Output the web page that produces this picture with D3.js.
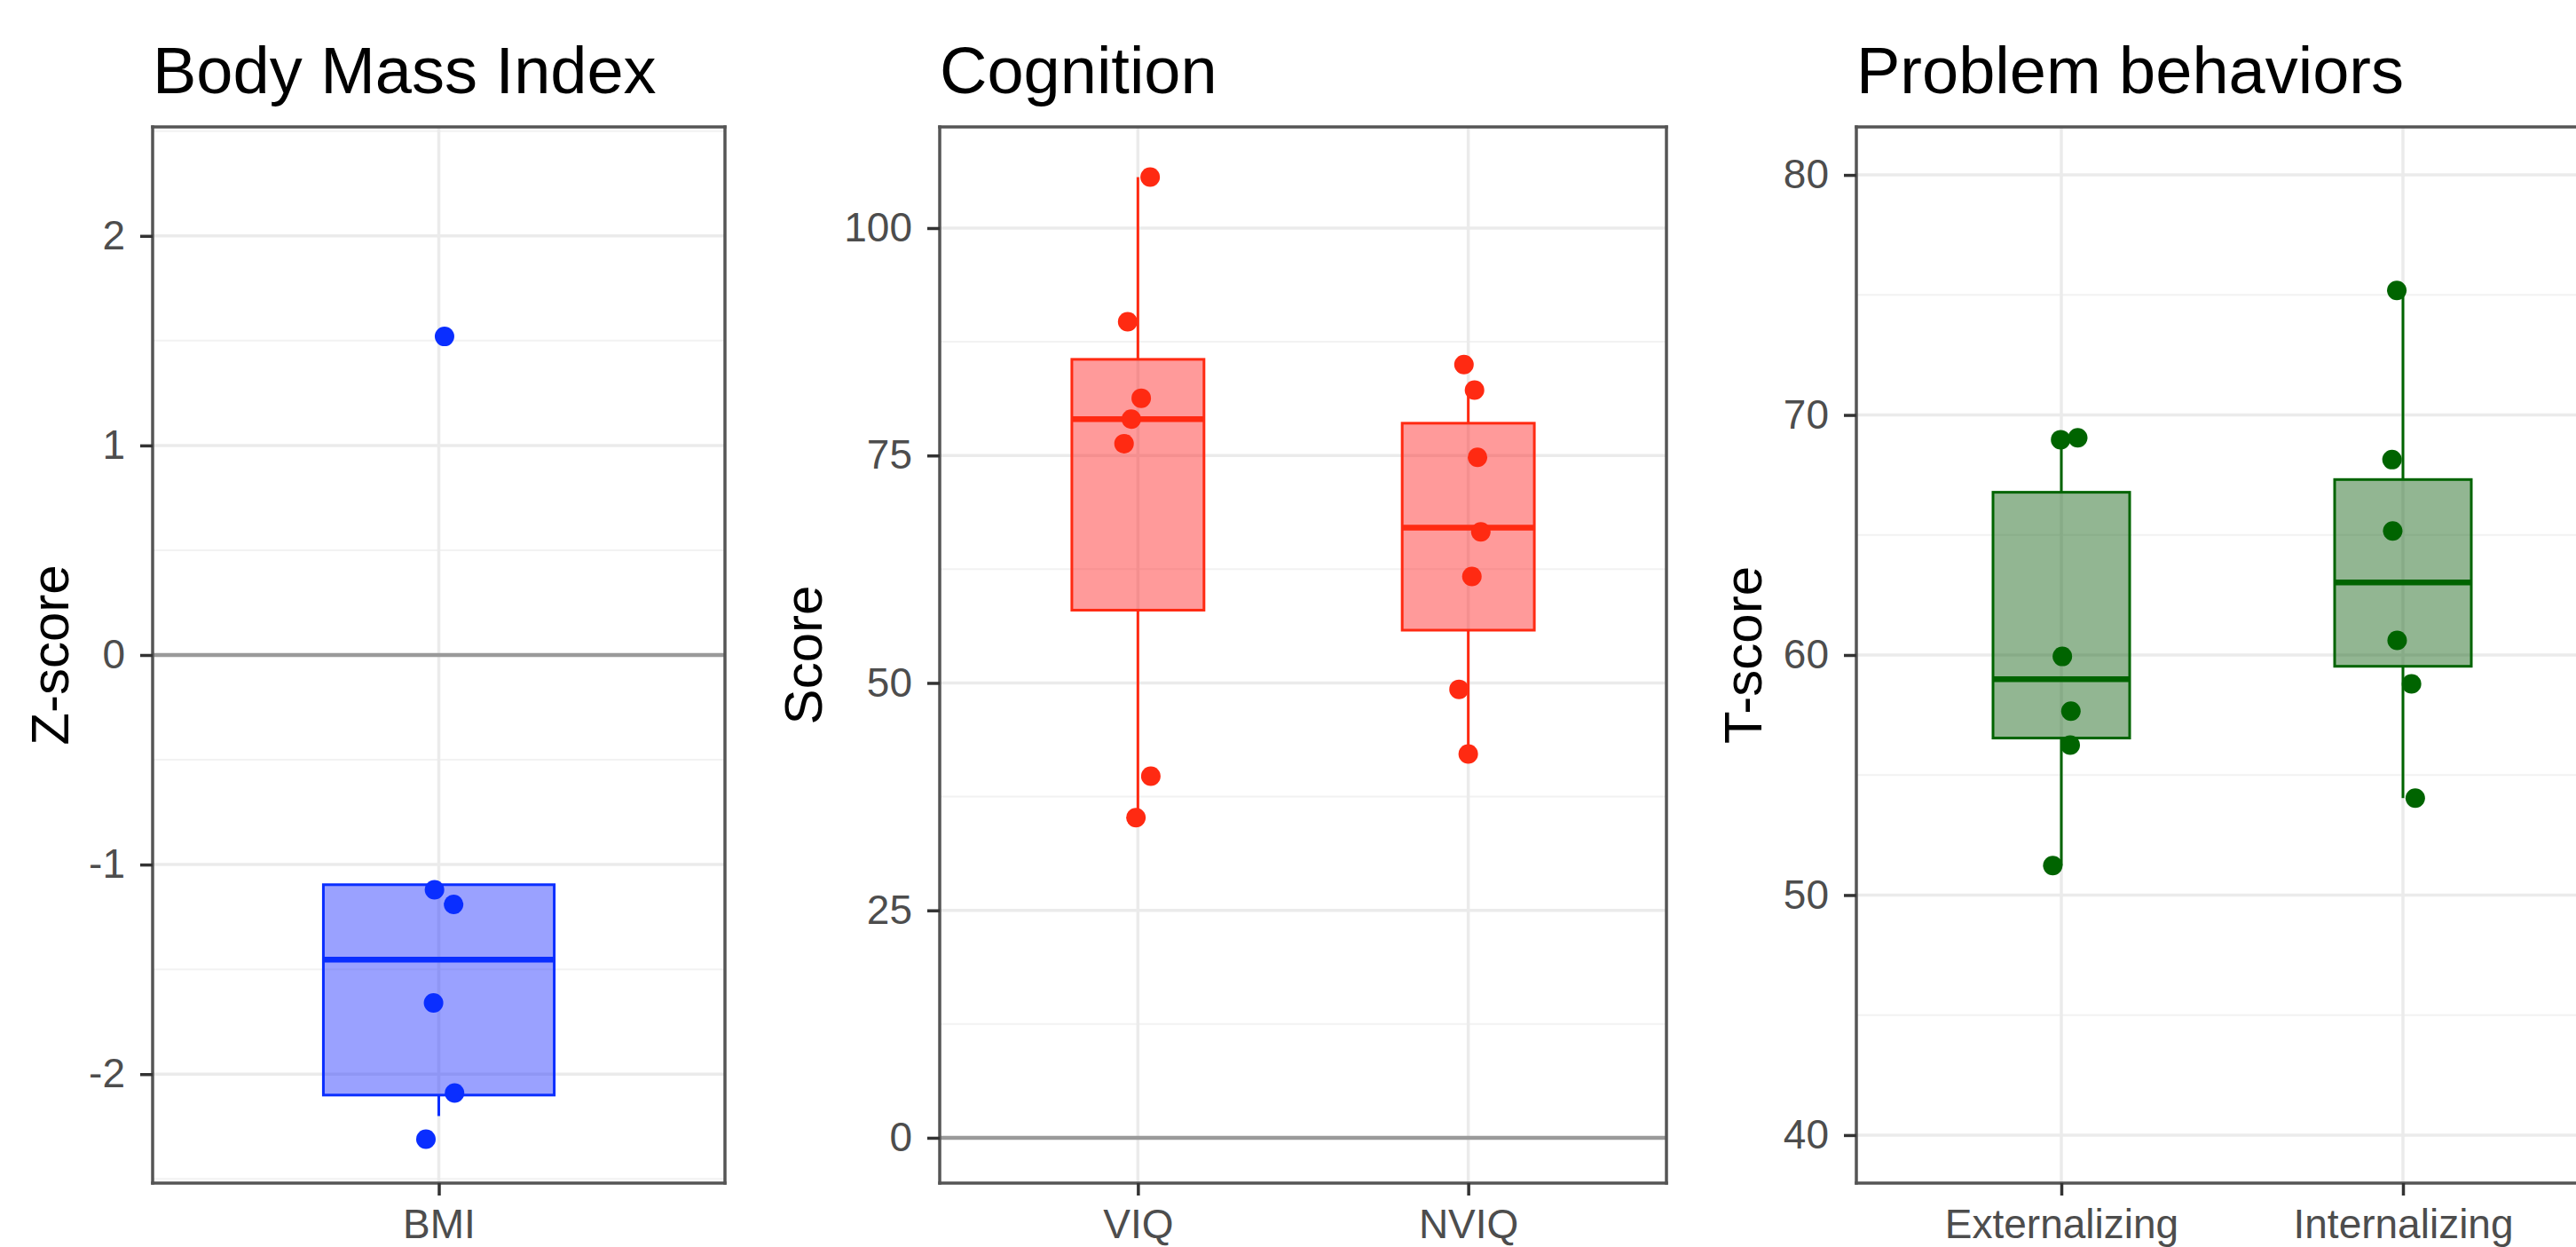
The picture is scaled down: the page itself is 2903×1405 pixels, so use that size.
<!DOCTYPE html>
<html><head><meta charset="utf-8">
<script src="https://cdn.jsdelivr.net/npm/d3@7"></script>
<style>html,body{margin:0;padding:0;background:#fff;overflow:hidden;width:2903px;height:1405px}svg{display:block;overflow:hidden}</style>
</head><body>
<svg id="chart" width="2903" height="1405"></svg>
<script>
// ---------------- DATA ----------------
const panelTitles = ["Body Mass Index", "Cognition", "Problem behaviors"];
const axisTitles = ["Z-score", "Score", "T-score"];

// Panel 1: Body Mass Index
const bmiCategories = ["BMI"];
const bmiTicks = [-2, -1, 0, 1, 2];
const bmiTickLabels = ["-2", "-1", "0", "1", "2"];
const bmiPointGroup = ["BMI", "BMI", "BMI", "BMI", "BMI", "BMI"];
const bmiPointValue = [1.52, -1.12, -1.19, -1.66, -2.09, -2.31];
const bmiPointJitter = [0.012, -0.009, 0.031, -0.011, 0.033, -0.027];
const bmiQ1 = [-2.10];
const bmiMedian = [-1.454];
const bmiQ3 = [-1.096];
const bmiWhiskerLow = [-2.20];
const bmiWhiskerHigh = [-1.096];

// Panel 2: Cognition
const cogCategories = ["VIQ", "NVIQ"];
const cogTicks = [0, 25, 50, 75, 100];
const cogTickLabels = ["0", "25", "50", "75", "100"];
const cogPointGroup = ["VIQ", "VIQ", "VIQ", "VIQ", "VIQ", "VIQ", "VIQ",
                       "NVIQ", "NVIQ", "NVIQ", "NVIQ", "NVIQ", "NVIQ", "NVIQ"];
const cogPointValue = [105.6, 89.7, 81.3, 79.0, 76.3, 39.75, 35.2,
                       85.0, 82.2, 74.8, 66.6, 61.7, 49.3, 42.2];
const cogPointJitter = [0.037, -0.031, 0.010, -0.020, -0.042, 0.039, -0.006,
                        -0.013, 0.019, 0.028, 0.038, 0.011, -0.028, 0.000];
const cogQ1 = [58.0, 55.8];
const cogMedian = [79.0, 67.06];
const cogQ3 = [85.57, 78.55];
const cogWhiskerLow = [35.2, 42.2];
const cogWhiskerHigh = [105.6, 82.2];

// Panel 3: Problem behaviors
const probCategories = ["Externalizing", "Internalizing"];
const probTicks = [40, 50, 60, 70, 80];
const probTickLabels = ["40", "50", "60", "70", "80"];
const probPointGroup = ["Externalizing", "Externalizing", "Externalizing", "Externalizing", "Externalizing", "Externalizing",
                        "Internalizing", "Internalizing", "Internalizing", "Internalizing", "Internalizing", "Internalizing"];
const probPointValue = [68.97, 69.05, 59.94, 57.66, 56.25, 51.23,
                        75.19, 68.14, 65.17, 60.61, 58.8, 54.04];
const probPointJitter = [-0.002, 0.048, 0.003, 0.028, 0.026, -0.025,
                         -0.018, -0.032, -0.030, -0.017, 0.025, 0.036];
const probQ1 = [56.54, 59.53];
const probMedian = [58.99, 63.02];
const probQ3 = [66.78, 67.31];
const probWhiskerLow = [51.23, 54.04];
const probWhiskerHigh = [68.97, 75.19];

// ---------------- LAYOUT / STYLE ----------------
const W = 2903, H = 1405;
const plotTop = 143, plotBottom = 1333;
const panels = [
  {title: panelTitles[0], ytitle: axisTitles[0], left: 172, right: 817, ytitleX: 77,
   domain: [-2.52, 2.52], minor: [-2.5, -1.5, -0.5, 0.5, 1.5, 2.5], zero: true,
   cats: bmiCategories, ticks: bmiTicks, tickLabels: bmiTickLabels,
   pg: bmiPointGroup, pv: bmiPointValue, pj: bmiPointJitter,
   q1: bmiQ1, med: bmiMedian, q3: bmiQ3, wl: bmiWhiskerLow, wh: bmiWhiskerHigh,
   boxW: 0.484, color: "#0a2eff", fill: "#1f2eff"},
  {title: panelTitles[1], ytitle: axisTitles[1], left: 1059, right: 1878, ytitleX: 926,
   domain: [-4.98, 111.12], minor: [12.5, 37.5, 62.5, 87.5], zero: true,
   cats: cogCategories, ticks: cogTicks, tickLabels: cogTickLabels,
   pg: cogPointGroup, pv: cogPointValue, pj: cogPointJitter,
   q1: cogQ1, med: cogMedian, q3: cogQ3, wl: cogWhiskerLow, wh: cogWhiskerHigh,
   boxW: 0.4, color: "#ff2a12", fill: "#ff1f1f"},
  {title: panelTitles[2], ytitle: axisTitles[2], left: 2092, right: 2939, ytitleX: 1985,
   domain: [38, 82], minor: [45, 55, 65, 75], zero: false,
   cats: probCategories, ticks: probTicks, tickLabels: probTickLabels,
   pg: probPointGroup, pv: probPointValue, pj: probPointJitter,
   q1: probQ1, med: probMedian, q3: probQ3, wl: probWhiskerLow, wh: probWhiskerHigh,
   boxW: 0.4, color: "#006400", fill: "#0d5e0d"}
];

const FONT = "'Liberation Sans', Arial, Helvetica, sans-serif";
const svg = d3.select("#chart");
svg.append("defs").append("clipPath").attr("id", "pageClip")
  .append("rect").attr("x", 0).attr("y", 0).attr("width", W).attr("height", H);
svg.append("rect").attr("width", W).attr("height", H).attr("fill", "#fff");
const root = svg.append("g").attr("clip-path", "url(#pageClip)");

panels.forEach(p => {
  const g = root.append("g");
  const x = d3.scalePoint().domain(p.cats).range([p.left, p.right]).padding(0.6);
  const y = d3.scaleLinear().domain(p.domain).range([plotBottom, plotTop]);
  const step = x.step();

  g.append("rect").attr("x", p.left).attr("y", plotTop)
    .attr("width", p.right - p.left).attr("height", plotBottom - plotTop).attr("fill", "#fff");

  g.selectAll(".minor").data(p.minor.filter(v => v > p.domain[0] && v < p.domain[1])).join("line")
    .attr("x1", p.left).attr("x2", p.right)
    .attr("y1", d => y(d)).attr("y2", d => y(d))
    .attr("stroke", "#f2f2f2").attr("stroke-width", 2);
  g.selectAll(".major").data(p.ticks).join("line")
    .attr("x1", p.left).attr("x2", p.right)
    .attr("y1", d => y(d)).attr("y2", d => y(d))
    .attr("stroke", "#ebebeb").attr("stroke-width", 3.5);
  g.selectAll(".vmajor").data(p.cats).join("line")
    .attr("x1", d => x(d)).attr("x2", d => x(d))
    .attr("y1", plotTop).attr("y2", plotBottom)
    .attr("stroke", "#ebebeb").attr("stroke-width", 3.5);

  if (p.zero) {
    g.append("line").attr("x1", p.left).attr("x2", p.right)
      .attr("y1", y(0)).attr("y2", y(0))
      .attr("stroke", "#9a9a9a").attr("stroke-width", 4.5);
  }

  p.cats.forEach((c, i) => {
    const cx = x(c);
    const hw = p.boxW * step / 2;
    g.append("line").attr("x1", cx).attr("x2", cx)
      .attr("y1", y(p.q3[i])).attr("y2", y(p.wh[i]))
      .attr("stroke", p.color).attr("stroke-width", 3);
    g.append("line").attr("x1", cx).attr("x2", cx)
      .attr("y1", y(p.q1[i])).attr("y2", y(p.wl[i]))
      .attr("stroke", p.color).attr("stroke-width", 3);
    g.append("rect").attr("x", cx - hw).attr("y", y(p.q3[i]))
      .attr("width", 2 * hw).attr("height", y(p.q1[i]) - y(p.q3[i]))
      .attr("fill", p.fill).attr("fill-opacity", 0.45)
      .attr("stroke", p.color).attr("stroke-width", 3);
    g.append("line").attr("x1", cx - hw).attr("x2", cx + hw)
      .attr("y1", y(p.med[i])).attr("y2", y(p.med[i]))
      .attr("stroke", p.color).attr("stroke-width", 6.5);
  });

  g.selectAll(".pt").data(p.pv).join("circle")
    .attr("cx", (d, i) => x(p.pg[i]) + p.pj[i] * step)
    .attr("cy", d => y(d))
    .attr("r", 11)
    .attr("fill", p.color);

  // panel border (drawn as separate sides so nothing is drawn beyond the page edge)
  const bx2 = Math.min(p.right, W + 10);
  const border = [
    [p.left, plotTop, bx2, plotTop],
    [p.left, plotBottom, bx2, plotBottom],
    [p.left, plotTop, p.left, plotBottom]
  ];
  if (p.right <= W) border.push([p.right, plotTop, p.right, plotBottom]);
  g.selectAll(".border").data(border).join("line")
    .attr("x1", d => d[0]).attr("y1", d => d[1]).attr("x2", d => d[2]).attr("y2", d => d[3])
    .attr("stroke", "#555").attr("stroke-width", 3.5).attr("stroke-linecap", "square");

  const yAxis = d3.axisLeft(y).tickValues(p.ticks)
    .tickFormat((d, i) => p.tickLabels[i]).tickSize(14).tickPadding(17);
  const ya = g.append("g").attr("transform", `translate(${p.left},0)`).call(yAxis);
  ya.select(".domain").remove();
  ya.selectAll(".tick line").attr("stroke", "#333").attr("stroke-width", 3.5);
  ya.selectAll(".tick text").attr("fill", "#4d4d4d")
    .style("font-family", FONT).style("font-size", "46px");

  const xAxis = d3.axisBottom(x).tickSize(14).tickPadding(15);
  const xa = g.append("g").attr("transform", `translate(0,${plotBottom})`).call(xAxis);
  xa.select(".domain").remove();
  xa.selectAll(".tick line").attr("stroke", "#333").attr("stroke-width", 3.5);
  xa.selectAll(".tick text").attr("fill", "#4d4d4d")
    .style("font-family", FONT).style("font-size", "46px");

  g.append("text").attr("x", p.left).attr("y", 105)
    .attr("fill", "#000").style("font-family", FONT).style("font-size", "74px")
    .text(p.title);

  g.append("text")
    .attr("transform", `translate(${p.ytitleX},${(plotTop + plotBottom) / 2}) rotate(-90)`)
    .attr("text-anchor", "middle")
    .attr("fill", "#000").style("font-family", FONT).style("font-size", "60px")
    .text(p.ytitle);
});
</script>
</body></html>
